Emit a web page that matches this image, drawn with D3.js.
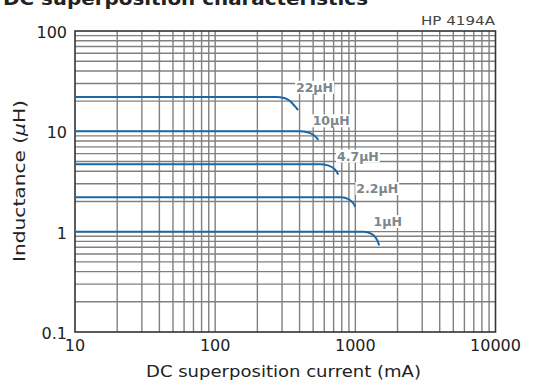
<!DOCTYPE html>
<html>
<head>
<meta charset="utf-8">
<script src="https://cdn.jsdelivr.net/npm/d3@7"></script>
<style>
  html, body { margin: 0; padding: 0; background: #fff; }
  svg { display: block; }
  text { font-family: "DejaVu Sans", "Noto Sans", sans-serif; }
</style>
</head>
<body>
<svg id="chart" width="535" height="390"></svg>
<script>
// ---- data ----
const seriesNames = ["22μH", "10μH", "4.7μH", "2.2μH", "1μH"];
const current22 = [10, 270, 315, 345, 370, 390];
const induct22  = [22, 22, 21.4, 19.8, 17.8, 16.3];
const current10 = [10, 400, 455, 495, 522, 545];
const induct10  = [10, 10, 9.8, 9.35, 8.8, 8.2];
const current47 = [10, 560, 645, 705, 735, 755];
const induct47  = [4.7, 4.7, 4.55, 4.25, 3.98, 3.7];
const current22b = [10, 800, 885, 945, 975, 1000];
const induct22b  = [2.2, 2.2, 2.12, 1.99, 1.89, 1.77];
const current1  = [10, 1150, 1285, 1390, 1440, 1480];
const induct1   = [1, 1, 0.96, 0.88, 0.81, 0.73];
const labelCurrent = [371, 488, 728, 1000, 1327];
const labelInduct  = [27.4, 12.7, 5.66, 2.68, 1.26];
const xTicks = [10, 100, 1000, 10000];
const xTickLabels = ["10", "100", "1000", "10000"];
const yTicks = [0.1, 1, 10, 100];
const yTickLabels = ["0.1", "1", "10", "100"];
const xDomain = [10, 10000];
const yDomain = [0.1, 100];

const seriesCurrent = [current22, current10, current47, current22b, current1];
const seriesInduct  = [induct22, induct10, induct47, induct22b, induct1];

(function () {
// ---- layout ----
const svg = d3.select("#chart");
const pl = 75, pr = 495.5, pt = 31, pb = 332;
const x = d3.scaleLog().domain(xDomain).range([pl, pr]);
const y = d3.scaleLog().domain(yDomain).range([pb, pt]);

// gridlines
const xMinor = [];
for (let d = 10; d < 10000; d *= 10) for (let k = 2; k <= 9; k++) xMinor.push(d * k);
const yMinor = [];
for (let d = 0.1; d < 100; d *= 10) for (let k = 2; k <= 9; k++) yMinor.push(+(d * k).toPrecision(3));
const xAll = xMinor.concat([100, 1000]);
const yAll = yMinor.concat([1, 10]);

const grid = svg.append("g");
grid.selectAll("line.vx").data(xAll).enter().append("line")
  .attr("x1", d => x(d)).attr("x2", d => x(d))
  .attr("y1", pt).attr("y2", pb)
  .attr("stroke", "#808080").attr("stroke-width", 1.4);
grid.selectAll("line.hy").data(yAll).enter().append("line")
  .attr("y1", d => y(d)).attr("y2", d => y(d))
  .attr("x1", pl).attr("x2", pr)
  .attr("stroke", "#808080").attr("stroke-width", 1.4);

// frame
svg.append("rect").attr("x", pl).attr("y", pt)
  .attr("width", pr - pl).attr("height", pb - pt)
  .attr("fill", "none").attr("stroke", "#333").attr("stroke-width", 1.6);

// curves
const line = d3.line()
  .x(d => x(d[0])).y(d => y(d[1]))
  .curve(d3.curveMonotoneX);
seriesCurrent.forEach((cs, i) => {
  const pts = cs.map((c, j) => [c, seriesInduct[i][j]]);
  svg.append("path").attr("d", line(pts))
    .attr("fill", "none").attr("stroke", "#1a68a6").attr("stroke-width", 2);
});

// labels with white background
seriesNames.forEach((name, i) => {
  const g = svg.append("g");
  const t = g.append("text")
    .attr("x", x(labelCurrent[i]) + 1)
    .attr("y", y(labelInduct[i]))
    .attr("dy", "0.35em")
    .attr("font-size", 12.5).attr("font-weight", "bold")
    .attr("fill", "#7b878b")
    .text(name);
  const bb = t.node().getBBox();
  g.insert("rect", "text")
    .attr("x", bb.x - 1).attr("y", bb.y + 1)
    .attr("width", bb.width + 2).attr("height", bb.height - 2)
    .attr("fill", "#fff");
});

// axes tick labels
svg.selectAll("text.xt").data(xTicks).enter().append("text")
  .attr("x", d => x(d)).attr("y", 351)
  .attr("text-anchor", "middle").attr("font-size", 16).attr("fill", "#222")
  .text((d, i) => xTickLabels[i]);
svg.selectAll("text.yt").data(yTicks).enter().append("text")
  .attr("x", 67).attr("y", d => y(d) + 7)
  .attr("text-anchor", "end").attr("font-size", 16).attr("fill", "#222")
  .text((d, i) => yTickLabels[i]);

// axis titles
svg.append("text").attr("x", (146 + 421) / 2).attr("y", 377)
  .attr("text-anchor", "middle").attr("font-size", 16).attr("fill", "#222")
  .attr("textLength", 275).attr("lengthAdjust", "spacingAndGlyphs")
  .text("DC superposition current (mA)");
const yt = svg.append("text")
  .attr("transform", "translate(25,181) rotate(-90)")
  .attr("text-anchor", "middle").attr("font-size", 16).attr("fill", "#222")
  .attr("textLength", 162).attr("lengthAdjust", "spacingAndGlyphs");
yt.append("tspan").text("Inductance (");
yt.append("tspan").attr("font-style", "italic").text("μ");
yt.append("tspan").text("H)");

// header texts
svg.append("text").attr("x", 495).attr("y", 25)
  .attr("text-anchor", "end").attr("font-size", 13).attr("fill", "#444")
  .attr("textLength", 74).attr("lengthAdjust", "spacingAndGlyphs")
  .text("HP 4194A");
svg.append("text").attr("x", 3).attr("y", 5)
  .attr("font-size", 17).attr("font-weight", "bold").attr("fill", "#222")
  .attr("textLength", 365).attr("lengthAdjust", "spacingAndGlyphs")
  .text("DC superposition characteristics");
})();
</script>
</body>
</html>
